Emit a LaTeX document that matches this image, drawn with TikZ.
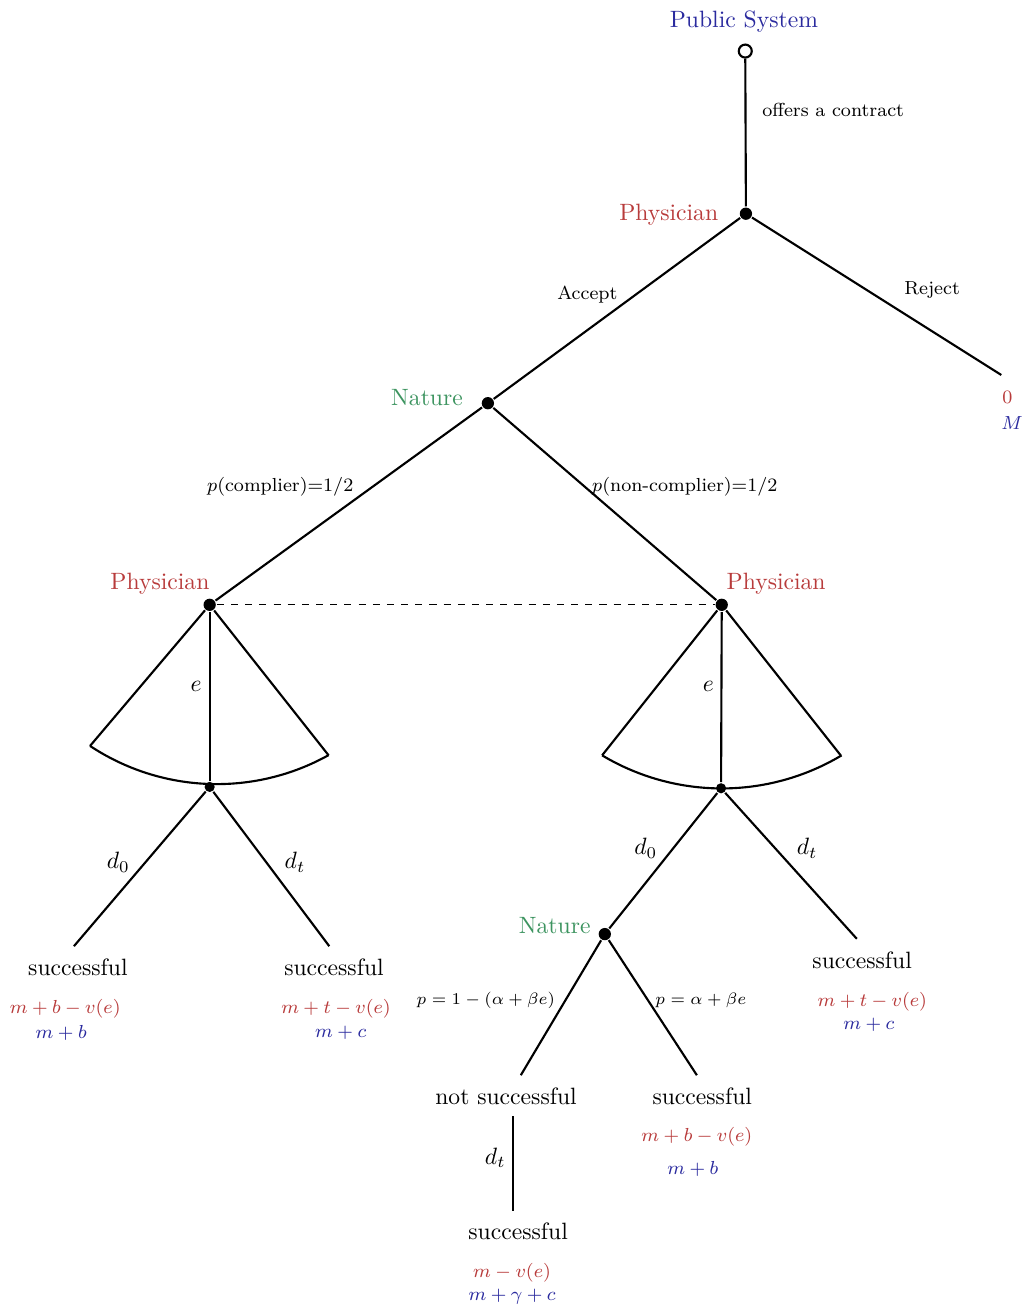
\documentclass[tikz,border=0pt]{standalone}
\usepackage{amsmath,amssymb}
\usetikzlibrary{positioning}
\definecolor{PlayerRed}{HTML}{B83B3B}
\definecolor{NatureGreen}{HTML}{3D9460}
\definecolor{SystemBlue}{HTML}{2A2A9E}
\tikzset{
  decnode/.style={circle,fill=black,inner sep=0pt,minimum size=5.2pt},
  opennode/.style={circle,draw=black,fill=white,inner sep=0pt,minimum size=5.5pt,line width=.9pt},
  player/.style={text=PlayerRed},
  nature/.style={text=NatureGreen},
  actlbl/.style={font=\footnotesize},
  problbl/.style={font=\fontsize{7.3}{9}\selectfont},
  payred/.style={font=\footnotesize,text=PlayerRed},
  payblue/.style={font=\footnotesize,text=SystemBlue}
}
\begin{document}
\begin{tikzpicture}[line width=.9pt]
\useasboundingbox (0,0) rectangle (15.253,-19.479);
% decision nodes
\node[opennode] (ps) at (11.09,-0.76) {};
\node[decnode] (ph) at (11.10,-3.18) {};
\node[decnode] (nat) at (7.26,-6.00) {};
\node[decnode] (phl) at (3.12,-9.00) {};
\node[decnode] (phr) at (10.74,-9.00) {};
\node[decnode,minimum size=4.3pt] (effl) at (3.12,-11.71) {};
\node[decnode,minimum size=4.3pt] (effr) at (10.73,-11.73) {};
\node[decnode] (natr) at (9.00,-13.90) {};
% free ends
\coordinate (rej) at (14.90,-5.58);
\coordinate (fla) at (1.34,-11.10);
\coordinate (flb) at (4.89,-11.24);
\coordinate (fra) at (8.96,-11.24);
\coordinate (frb) at (12.51,-11.24);
\coordinate (l0) at (1.10,-14.08);
\coordinate (lt) at (4.90,-14.08);
\coordinate (rt) at (12.75,-13.97);
\coordinate (nf) at (7.75,-16.00);
\coordinate (sc) at (10.37,-16.00);
% player names
\node[text=SystemBlue] (psl) at (11.07,-0.32) {Public System};
\node[player,anchor=east] (phlbl) at (10.82,-3.20) {Physician};
\node[nature,anchor=east] (natlbl) at (7.02,-5.91) {Nature};
\node[player] (phllbl) at (2.38,-8.68) {Physician};
\node[player] (phrlbl) at (11.55,-8.68) {Physician};
\node[nature,anchor=east] (natrlbl) at (8.92,-13.77) {Nature};
% tree
\draw (ps) -- (ph);
\draw (ph) -- (nat);
\draw (ph) -- (rej);
\draw (nat) -- (phl);
\draw (nat) -- (phr);
\draw[dashed,line width=.5pt] (phl) -- (phr);
% effort fans
\draw (fla) -- (phl) -- (flb);
\draw (fla) arc[start angle=236.5,end angle=299.1,radius=3.42];
\draw (phl) -- (effl);
\draw (fra) -- (phr) -- (frb);
\draw (fra) arc[start angle=239.1,end angle=300.9,radius=3.47];
\draw (phr) -- (effr);
% treatments
\draw (effl) -- (l0);
\draw (effl) -- (lt);
\draw (effr) -- (natr);
\draw (effr) -- (rt);
\draw (natr) -- (nf);
\draw (natr) -- (sc);
% action labels
\node[actlbl,anchor=west] (offer) at (11.21,-1.64) {offers a contract};
\node[actlbl] (acc) at (8.74,-4.38) {Accept};
\node[actlbl] (rjl) at (13.87,-4.32) {Reject};
\node[actlbl] (comp) at (4.17,-7.25) {$p$(complier)=1/2};
\node[actlbl] (ncomp) at (10.19,-7.25) {$p$(non-complier)=1/2};
\node (el) at (2.92,-10.21) {$e$};
\node (er) at (10.54,-10.21) {$e$};
\node (dl0) at (1.76,-12.83) {$d_0$};
\node (dlt) at (4.39,-12.83) {$d_t$};
\node (dr0) at (9.61,-12.62) {$d_0$};
\node (drt) at (12.01,-12.62) {$d_t$};
\node[problbl] (pfail) at (7.23,-14.88) {$p=1-(\alpha+\beta e)$};
\node[problbl] (psucc) at (10.43,-14.88) {$p=\alpha+\beta e$};
% outcomes
\node[payred] (rejr) at (14.99,-5.91) {$0$};
\node[payblue] (rejb) at (15.06,-6.29) {$M$};
\node (o1) at (1.16,-14.40) {successful};
\node[payred] (o1r) at (0.97,-15.01) {$m+b-v(e)$};
\node[payblue] (o1b) at (0.91,-15.37) {$m+b$};
\node (o2) at (4.97,-14.40) {successful};
\node[payred] (o2r) at (5.00,-15.01) {$m+t-v(e)$};
\node[payblue] (o2b) at (5.07,-15.37) {$m+c$};
\node (o3) at (12.83,-14.29) {successful};
\node[payred] (o3r) at (12.98,-14.90) {$m+t-v(e)$};
\node[payblue] (o3b) at (12.93,-15.25) {$m+c$};
\node (o4) at (7.53,-16.31) {not successful};
\node (o5) at (10.45,-16.31) {successful};
\node[payred] (o5r) at (10.37,-16.92) {$m+b-v(e)$};
\node[payblue] (o5b) at (10.31,-17.40) {$m+b$};
\node (o6) at (7.71,-18.33) {successful};
\node[payred] (o6r) at (7.62,-18.94) {$m-v(e)$};
\node[payblue] (o6b) at (7.62,-19.30) {$m+\gamma+c$};
% second treatment
\coordinate (vt) at (7.63,-16.61);
\coordinate (vb) at (7.63,-18.02);
\draw (vt) -- (vb);
\node (dvt) at (7.37,-17.23) {$d_t$};
\end{tikzpicture}
\end{document}
